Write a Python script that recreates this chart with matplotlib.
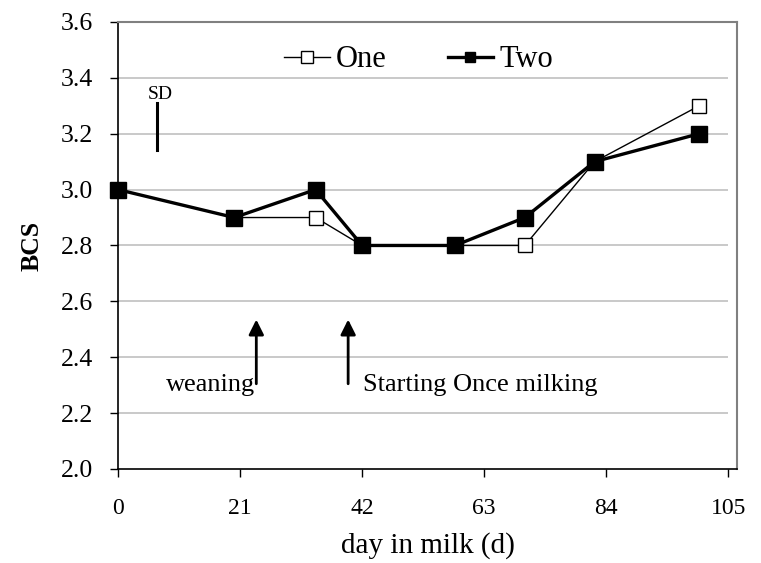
import matplotlib
matplotlib.use("Agg")
import matplotlib.pyplot as plt
from matplotlib.lines import Line2D

plt.rcParams['font.family'] = ['Liberation Serif', 'DejaVu Serif']

# data
days = [0, 20, 34, 42, 58, 70, 82, 100]
bcs_one = [3.0, 2.9, 2.9, 2.8, 2.8, 2.8, 3.1, 3.3]
bcs_two = [3.0, 2.9, 3.0, 2.8, 2.8, 2.9, 3.1, 3.2]
x_ticks = [0, 21, 42, 63, 84, 105]
y_ticks = [2.0, 2.2, 2.4, 2.6, 2.8, 3.0, 3.2, 3.4, 3.6]
grid_levels = [2.2, 2.4, 2.6, 2.8, 3.0, 3.2, 3.4]

fig = plt.figure(figsize=(7.61, 5.63), dpi=100)
ax = fig.add_axes([0.155, 0.167, 0.8135, 0.794])

# horizontal gridlines (stop at the last tick, like the original)
ax.hlines(grid_levels, 0, 105, colors="#c0c0c0", linewidth=1.2, zorder=0)

ax.plot(days, bcs_one, color="black", linewidth=1.0, marker="s",
        markersize=10, markerfacecolor="white", markeredgecolor="black",
        markeredgewidth=1.0, zorder=2, clip_on=False)
ax.plot(days, bcs_two, color="black", linewidth=2.4, marker="s",
        markersize=12, markerfacecolor="black", markeredgecolor="black",
        zorder=3, clip_on=False)

# SD bar
ax.plot([6.8, 6.8], [3.14, 3.31], color="black", linewidth=2.2)
ax.text(7.2, 3.325, "SD", fontsize=14, ha="center", va="baseline")

# event arrows
arrow_style = dict(arrowstyle="-|>,head_width=0.45,head_length=0.9",
                   color="black", linewidth=2.0, shrinkA=0, shrinkB=0)
ax.annotate("", xy=(23.8, 2.535), xytext=(23.8, 2.305), arrowprops=arrow_style)
ax.annotate("", xy=(39.6, 2.535), xytext=(39.6, 2.305), arrowprops=arrow_style)
ax.text(23.6, 2.30, "weaning", fontsize=19, ha="right", va="center")
ax.text(42.2, 2.30, "Starting Once milking", fontsize=19, ha="left", va="center")

ax.set_xlim(0, 106.5)
ax.set_ylim(2.0, 3.6)
ax.set_xticks(x_ticks)
ax.set_yticks(y_ticks)
ax.set_yticklabels([f"{v:.1f}" for v in y_ticks])
ax.tick_params(axis="both", direction="out", length=6, width=1)
ax.tick_params(axis="x", pad=15, labelsize=17)
ax.tick_params(axis="y", pad=12, labelsize=18.5)

for side in ["top", "right"]:
    ax.spines[side].set_color("#808080")
    ax.spines[side].set_linewidth(1.5)
for side in ["left", "bottom"]:
    ax.spines[side].set_color("black")
    ax.spines[side].set_linewidth(1.2)

ax.set_xlabel("day in milk (d)", fontsize=21, labelpad=9)
ax.set_ylabel("BCS", fontsize=18.5, fontweight="bold", labelpad=12)

# legend handles with smaller markers, as in the original
handles = [
    Line2D([], [], color="black", linewidth=1.0, marker="s", markersize=8.5,
           markerfacecolor="white", markeredgecolor="black", label="One"),
    Line2D([], [], color="black", linewidth=2.4, marker="s", markersize=7.5,
           markerfacecolor="black", markeredgecolor="black", label="Two"),
]
ax.legend(handles=handles, loc="center", bbox_to_anchor=(0.4855, 0.915),
          ncol=2, frameon=False, fontsize=22, handlelength=1.5,
          handletextpad=0.2, columnspacing=2.0)

fig.savefig("out.png", dpi=100)
